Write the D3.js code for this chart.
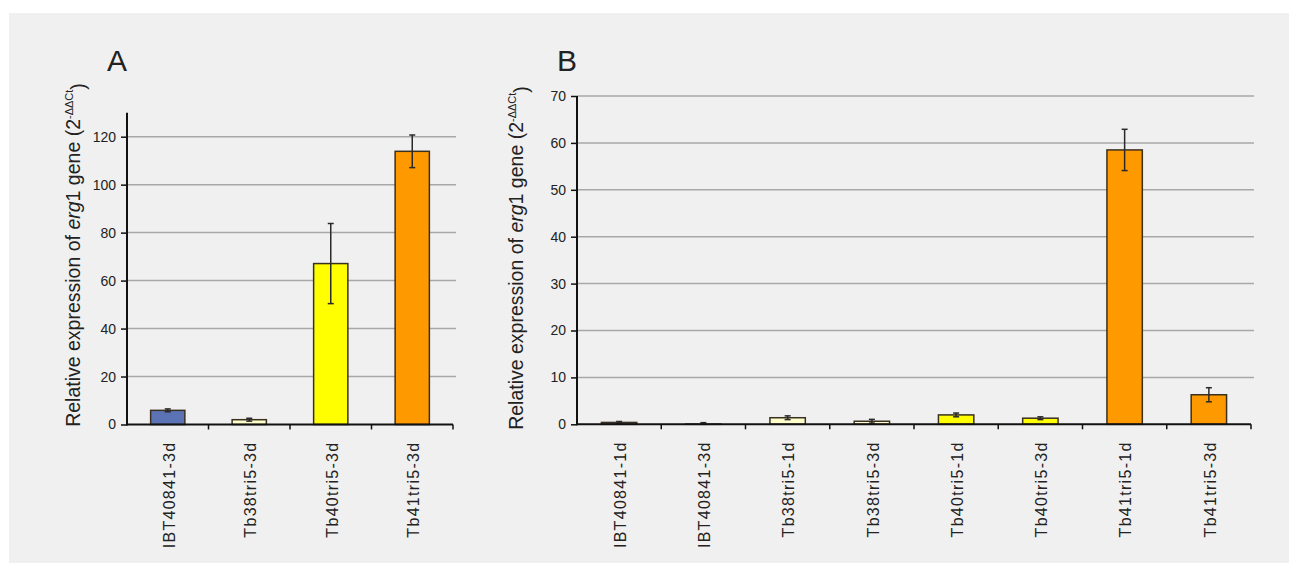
<!DOCTYPE html>
<html>
<head>
<meta charset="utf-8">
<script src="https://cdn.jsdelivr.net/npm/d3@7"></script>
<style>
  body { margin: 0; background: #fff; }
  text { font-family: "Liberation Sans", Arial, sans-serif; fill: #222; }
</style>
</head>
<body>
<div id="chart"></div>
<script>
// values
var catsA = ["IBT40841-3d", "Tb38tri5-3d", "Tb40tri5-3d", "Tb41tri5-3d"];
var valsA = [5.9, 2.0, 67.1, 113.9];
var errsA = [0.6, 0.6, 16.7, 6.8];
var ticksA = [0, 20, 40, 60, 80, 100, 120];

var catsB = ["IBT40841-1d", "IBT40841-3d", "Tb38tri5-1d", "Tb38tri5-3d",
             "Tb40tri5-1d", "Tb40tri5-3d", "Tb41tri5-1d", "Tb41tri5-3d"];
var valsB = [0.4, 0.05, 1.4, 0.65, 2.0, 1.3, 58.5, 6.3];
var errsB = [0.2, 0.3, 0.4, 0.4, 0.4, 0.3, 4.4, 1.5];
var ticksB = [0, 10, 20, 30, 40, 50, 60, 70];

var strainColor = {
  "IBT40841": "#5b72b4",
  "Tb38tri5": "#ffffcc",
  "Tb40tri5": "#ffff00",
  "Tb41tri5": "#ff9900"
};

var W = 1289, H = 563;
var svg = d3.select("#chart").append("svg")
  .attr("width", W).attr("height", H);

// grey panel behind everything
svg.append("rect")
  .attr("x", 9).attr("y", 13)
  .attr("width", W - 9).attr("height", H - 13)
  .attr("fill", "#f0f0f0");

function drawPanel(p) {
  var g = svg.append("g");

  var x = d3.scaleBand()
    .domain(p.cats)
    .range([p.x0, p.x1])
    .paddingInner(0.58).paddingOuter(0.29);
  var xb = d3.scaleBand().domain(p.cats).range([p.x0, p.x1]);

  var y = d3.scaleLinear()
    .domain([0, p.ymax])
    .range([p.y0, p.ytop]);

  // gridlines
  g.selectAll(".grid")
    .data(p.ticks.filter(function(d) { return d > 0; }))
    .enter().append("line")
      .attr("x1", p.x0).attr("x2", p.x1 + 3)
      .attr("y1", function(d) { return y(d); })
      .attr("y2", function(d) { return y(d); })
      .attr("stroke", "#a8a8a8").attr("stroke-width", 1.5);

  // bars
  var data = p.cats.map(function(c, i) {
    return {cat: c, value: p.vals[i], err: p.errs[i]};
  });
  g.selectAll(".bar")
    .data(data)
    .enter().append("rect")
      .attr("x", function(d) { return x(d.cat); })
      .attr("y", function(d) { return y(d.value); })
      .attr("width", x.bandwidth())
      .attr("height", function(d) { return y(0) - y(d.value); })
      .attr("fill", function(d) { return strainColor[d.cat.split("-")[0]]; })
      .attr("stroke", "#3a3020").attr("stroke-width", 1.5);

  // error bars
  var eb = g.selectAll(".err").data(data).enter().append("g")
    .attr("stroke", "#2a2a2a").attr("stroke-width", 1.5);
  eb.append("line")
    .attr("x1", function(d) { return x(d.cat) + x.bandwidth() / 2; })
    .attr("x2", function(d) { return x(d.cat) + x.bandwidth() / 2; })
    .attr("y1", function(d) { return y(Math.max(0, d.value - d.err)); })
    .attr("y2", function(d) { return y(d.value + d.err); });
  [1, -1].forEach(function(s) {
    eb.append("line")
      .attr("x1", function(d) { return x(d.cat) + x.bandwidth() / 2 - 3; })
      .attr("x2", function(d) { return x(d.cat) + x.bandwidth() / 2 + 3; })
      .attr("y1", function(d) { return y(Math.max(0, d.value + s * d.err)); })
      .attr("y2", function(d) { return y(Math.max(0, d.value + s * d.err)); });
  });

  // y axis
  var ya = g.append("g")
    .attr("transform", "translate(" + p.x0 + ",0)")
    .call(d3.axisLeft(y).tickValues(p.ticks).tickSize(6).tickPadding(5).tickSizeOuter(0));
  ya.select(".domain").remove();
  ya.selectAll("line").attr("stroke", "#111").attr("stroke-width", 1.5);
  ya.selectAll("text")
    .style("font-family", "'Liberation Sans', Arial, sans-serif")
    .style("font-size", "14px").attr("fill", "#222");
  g.append("line")
    .attr("x1", p.x0).attr("x2", p.x0)
    .attr("y1", p.ytop).attr("y2", p.y0 + 1)
    .attr("stroke", "#111").attr("stroke-width", 2);

  // x axis
  g.append("line")
    .attr("x1", p.x0).attr("x2", p.x1)
    .attr("y1", p.y0).attr("y2", p.y0)
    .attr("stroke", "#111").attr("stroke-width", 2);
  var bounds = p.cats.map(function(c) { return xb(c); }).slice(1).concat([p.x1]);
  g.selectAll(".xtick").data(bounds).enter().append("line")
    .attr("x1", function(d) { return d; }).attr("x2", function(d) { return d; })
    .attr("y1", p.y0).attr("y2", p.y0 + 5)
    .attr("stroke", "#111").attr("stroke-width", 1.5);

  g.selectAll(".xlab").data(p.cats).enter().append("text")
    .attr("transform", function(d) {
      return "translate(" + (xb(d) + xb.bandwidth() / 2 + 1) + "," + (p.y0 + 17) + ") rotate(-90)";
    })
    .attr("text-anchor", "end")
    .attr("dy", "0.36em")
    .style("font-size", "16px")
    .style("letter-spacing", "1.3px")
    .text(function(d) { return d; });

  // y title
  var t = g.append("text")
    .attr("transform", "translate(" + p.titleX + "," + p.titleY + ") rotate(-90)")
    .attr("text-anchor", "middle")
    .style("font-size", "19.5px");
  t.append("tspan").text("Relative expression of ");
  t.append("tspan").style("font-style", "italic").text("erg");
  t.append("tspan").text("1 gene (2");
  t.append("tspan").attr("dy", "-0.6em").style("font-size", "11px").text("-ΔΔCt");
  t.append("tspan").attr("dy", "0.6em").text(")");

  // panel letter
  g.append("text")
    .attr("x", p.letterX).attr("y", 71)
    .style("font-size", "30px")
    .attr("fill", "#111")
    .text(p.letter);
}

drawPanel({
  cats: catsA, vals: valsA, errs: errsA, ticks: ticksA, ymax: 130,
  x0: 127, x1: 453, y0: 424.5, ytop: 112.7,
  titleX: 80, titleY: 255, letter: "A", letterX: 107
});

drawPanel({
  cats: catsB, vals: valsB, errs: errsB, ticks: ticksB, ymax: 70,
  x0: 577, x1: 1251, y0: 424.3, ytop: 96,
  titleX: 523, titleY: 258, letter: "B", letterX: 557
});
</script>
</body>
</html>
